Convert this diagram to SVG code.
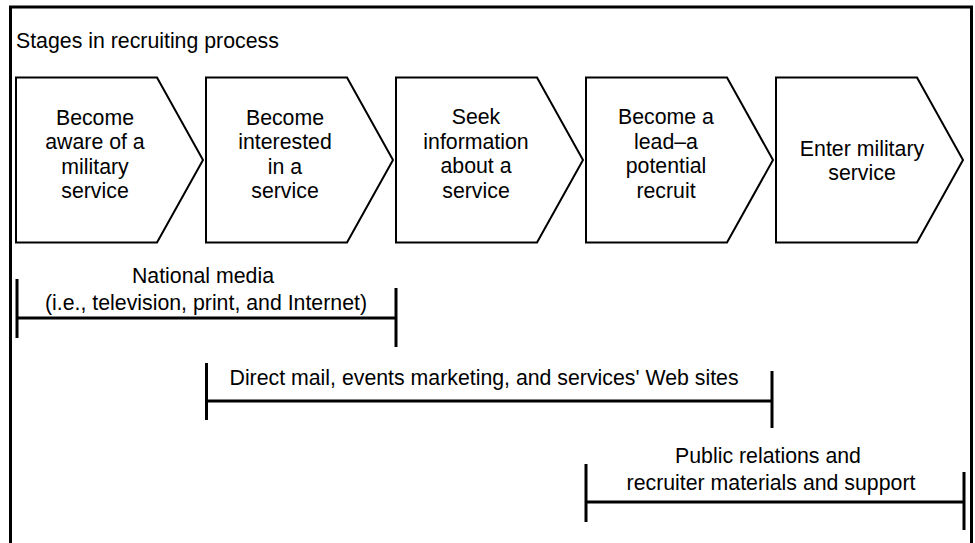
<svg xmlns="http://www.w3.org/2000/svg" width="975" height="543" viewBox="0 0 975 543">
<defs>
<style>
text{font-family:"Liberation Sans",Arial,sans-serif;font-size:21.3px;fill:#000}
.c{text-anchor:middle}
.chev{fill:#fff;stroke:#000;stroke-width:2;stroke-linejoin:miter}
.br{stroke:#000;stroke-width:3;fill:none}
.frame{stroke:#000;stroke-width:3;fill:none}
</style>
<polygon id="chevShape" points="0,0 141,0 187,82.5 141,165 0,165"/>
</defs>
<rect width="975" height="543" fill="#fff"/>
<path class="frame" d="M10.5,543 V7 H971.5 V543"/>
<text x="16" y="48">Stages in recruiting process</text>

<g id="stage1" transform="translate(16,77.5)">
<use href="#chevShape" class="chev"/>
<text class="c" x="79" y="47">Become</text>
<text class="c" x="79" y="71.5">aware of a</text>
<text class="c" x="79" y="96">military</text>
<text class="c" x="79" y="120.5">service</text>
</g>
<g id="stage2" transform="translate(206,77.5)">
<use href="#chevShape" class="chev"/>
<text class="c" x="79" y="47">Become</text>
<text class="c" x="79" y="71.5">interested</text>
<text class="c" x="79" y="96">in a</text>
<text class="c" x="79" y="120.5">service</text>
</g>
<g id="stage3" transform="translate(396,77.5)">
<use href="#chevShape" class="chev"/>
<text class="c" x="80" y="46.5">Seek</text>
<text class="c" x="80" y="71">information</text>
<text class="c" x="80" y="95.5">about a</text>
<text class="c" x="80" y="120">service</text>
</g>
<g id="stage4" transform="translate(586,77.5)">
<use href="#chevShape" class="chev"/>
<text class="c" x="80" y="46.5">Become a</text>
<text class="c" x="80" y="71">lead–a</text>
<text class="c" x="80" y="95.5">potential</text>
<text class="c" x="80" y="120">recruit</text>
</g>
<g id="stage5" transform="translate(776,77.5)">
<use href="#chevShape" class="chev"/>
<text class="c" x="86" y="78">Enter military</text>
<text class="c" x="86" y="102.5">service</text>
</g>

<g id="connectors">
<g id="national-media">
<path class="br" d="M17,279 V338 M17,318 H396 M396,288 V347"/>
<text class="c" x="203" y="283">National media</text>
<text class="c" x="206" y="310">(i.e., television, print, and Internet)</text>
</g>
<g id="direct-mail">
<path class="br" d="M206.5,363 V420 M206.5,401 H772 M772,371 V428"/>
<text x="229.5" y="385">Direct mail, events marketing, and services' Web sites</text>
</g>
<g id="public-relations">
<path class="br" d="M586,464 V522 M586,502 H964 M964,472 V530"/>
<text class="c" x="768" y="463">Public relations and</text>
<text class="c" x="771" y="490">recruiter materials and support</text>
</g>
</g>
</svg>
